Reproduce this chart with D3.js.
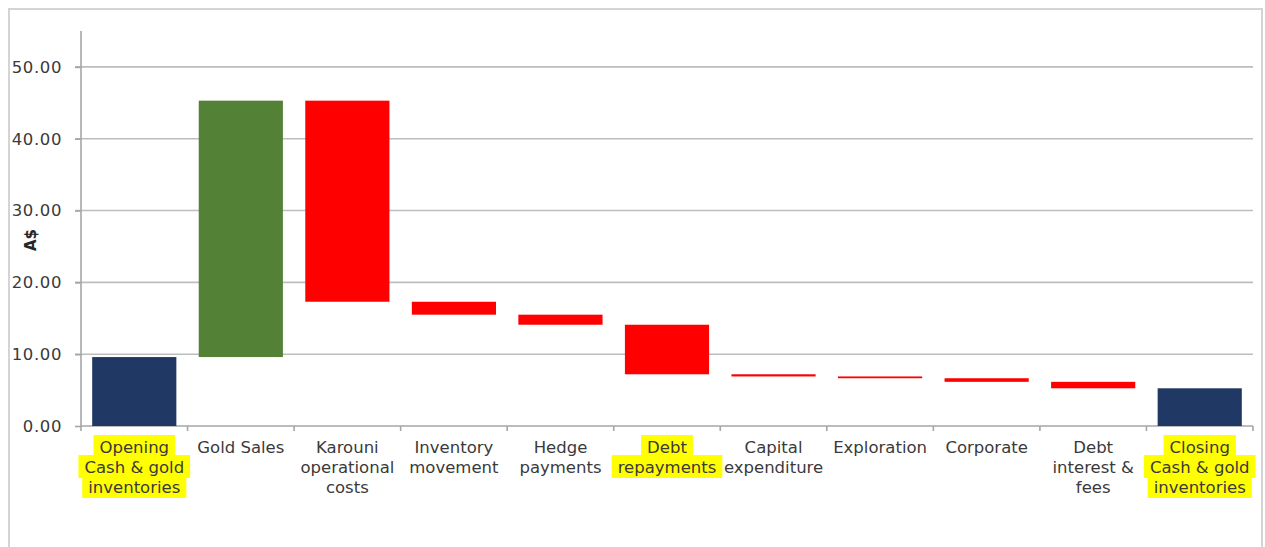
<!DOCTYPE html>
<html>
<head>
<meta charset="utf-8">
<script src="https://cdn.jsdelivr.net/npm/d3@7"></script>
<style>
  body { margin: 0; background: #fff; }
  text { font-family: "DejaVu Sans", sans-serif; }
</style>
</head>
<body>
<svg id="chart"></svg>
<script>
// waterfall data (A$ millions)
let categories = ["Opening", "Gold Sales", "Karouni", "Inventory", "Hedge", "Debt",
                  "Capital", "Exploration", "Corporate", "Debt interest", "Closing"];
let labelLines = [
  ["Opening", "Cash & gold", "inventories"],
  ["Gold Sales"],
  ["Karouni", "operational", "costs"],
  ["Inventory", "movement"],
  ["Hedge", "payments"],
  ["Debt", "repayments"],
  ["Capital", "expenditure"],
  ["Exploration"],
  ["Corporate"],
  ["Debt", "interest &", "fees"],
  ["Closing", "Cash & gold", "inventories"]
];
// first value is the opening balance, the rest are movements; last bar is the total
let changes = [9.6, 35.7, -28.0, -1.8, -1.4, -6.9, -0.3, -0.25, -0.5, -0.9];
let highlighted = ["Opening", "Debt", "Closing"];
let yTicks = [0, 10, 20, 30, 40, 50];
let yMax = 55;

function buildSteps() {
  let steps = [];
  let running = 0;
  changes.forEach((c, i) => {
    let kind = i == 0 ? "total" : (c >= 0 ? "up" : "down");
    let start = i == 0 ? 0 : running;
    running += c;
    steps.push({ name: categories[i], start: start, end: running, kind: kind });
  });
  steps.push({ name: categories[categories.length - 1], start: 0, end: running, kind: "total" });
  return steps;
}

function getConfig() {
  let width = 1265;
  let height = 547;
  let margin = { top: 31, bottom: 121, left: 81, right: 12 };
  let bodyHeight = height - margin.top - margin.bottom;
  let bodyWidth = width - margin.left - margin.right;

  let container = d3.select("#chart")
    .attr("width", width)
    .attr("height", height);

  return { width, height, margin, bodyHeight, bodyWidth, container };
}

function getScales(config) {
  let { bodyWidth, bodyHeight } = config;
  let xScale = d3.scaleBand()
    .domain(categories)
    .range([0, bodyWidth])
    .paddingInner(0.21)
    .paddingOuter(0.105);
  let yScale = d3.scaleLinear()
    .domain([0, yMax])
    .range([bodyHeight, 0]);
  return { xScale, yScale };
}

function drawFrame(config) {
  let { height, container } = config;
  // outer chart border (image is cropped at the bottom)
  container.append("path")
    .attr("d", `M9,${height} V9 H1262 V${height}`)
    .attr("fill", "none")
    .attr("stroke", "#d4d4d4")
    .attr("stroke-width", 2);
}

function drawAxes(scales, config) {
  let { margin, container, bodyHeight, bodyWidth } = config;
  let { xScale, yScale } = scales;

  let body = container.append("g")
    .attr("transform", `translate(${margin.left},${margin.top})`);

  // gridlines
  body.append("g")
    .selectAll("line")
    .data(yTicks.filter(d => d > 0))
    .enter()
    .append("line")
      .attr("x1", -6)
      .attr("x2", bodyWidth)
      .attr("y1", d => yScale(d))
      .attr("y2", d => yScale(d))
      .attr("stroke", "#bdbdbd")
      .attr("stroke-width", 1.6);

  // y axis
  let yAxis = body.append("g")
    .call(d3.axisLeft(yScale).tickValues(yTicks).tickFormat(d3.format(".2f")).tickSize(6).tickPadding(13));
  yAxis.select(".domain").attr("stroke", "#a6a6a6").attr("stroke-width", 1.6).attr("d", `M0,0V${bodyHeight}`);
  yAxis.selectAll(".tick line").attr("stroke", "#a6a6a6").attr("stroke-width", 1.6);
  yAxis.selectAll(".tick text")
    .attr("fill", "#3a3a3a")
    .style("font-size", "16.5px")
    .style("letter-spacing", "0.6px");

  // x axis line with ticks on the band boundaries
  body.append("line")
    .attr("x1", 0).attr("x2", bodyWidth)
    .attr("y1", bodyHeight).attr("y2", bodyHeight)
    .attr("stroke", "#a6a6a6").attr("stroke-width", 1.6);
  let step = xScale.step();
  body.append("g")
    .selectAll("line")
    .data(d3.range(categories.length + 1))
    .enter()
    .append("line")
      .attr("x1", i => i * step)
      .attr("x2", i => i * step)
      .attr("y1", bodyHeight)
      .attr("y2", bodyHeight + 5)
      .attr("stroke", "#a6a6a6").attr("stroke-width", 1.6);

  // category labels
  let labels = body.append("g")
    .selectAll("g")
    .data(categories)
    .enter()
    .append("g")
      .attr("transform", d => `translate(${xScale(d) + xScale.bandwidth() / 2},${bodyHeight})`);

  labels.each(function(d, i) {
    let g = d3.select(this);
    let hl = g.append("g");
    let text = g.append("text")
      .attr("text-anchor", "middle")
      .attr("fill", "#3a3a3a")
      .style("font-size", "16.5px");
    labelLines[i].forEach((line, k) => {
      text.append("tspan")
        .attr("x", 0)
        .attr("y", 27 + k * 20)
        .text(line);
    });
    if (highlighted.includes(d)) {
      text.selectAll("tspan").each(function(_, k) {
        let w = this.getComputedTextLength();
        hl.append("rect")
          .attr("x", -w / 2 - 6)
          .attr("y", 9 + k * 20)
          .attr("width", w + 12)
          .attr("height", 23)
          .attr("fill", "#ffff00");
      });
    }
  });

  // y axis title
  container.append("text")
    .attr("transform", "translate(36,240) rotate(-90)")
    .attr("text-anchor", "middle")
    .attr("fill", "#262626")
    .style("font-size", "15px")
    .style("font-weight", "bold")
    .text("A$");

  return body;
}

function drawBars(steps, body, scales) {
  let { xScale, yScale } = scales;
  let colors = { total: "#203864", up: "#538135", down: "#ff0000" };

  body.append("g")
    .selectAll("rect")
    .data(steps)
    .enter()
    .append("rect")
      .attr("x", d => xScale(d.name))
      .attr("y", d => yScale(Math.max(d.start, d.end)))
      .attr("width", xScale.bandwidth())
      .attr("height", d => Math.abs(yScale(d.start) - yScale(d.end)))
      .style("fill", d => colors[d.kind]);
}

function drawWaterfall() {
  let config = getConfig();
  let scales = getScales(config);
  let steps = buildSteps();
  drawFrame(config);
  let body = drawAxes(scales, config);
  drawBars(steps, body, scales);
}

drawWaterfall();
</script>
</body>
</html>
